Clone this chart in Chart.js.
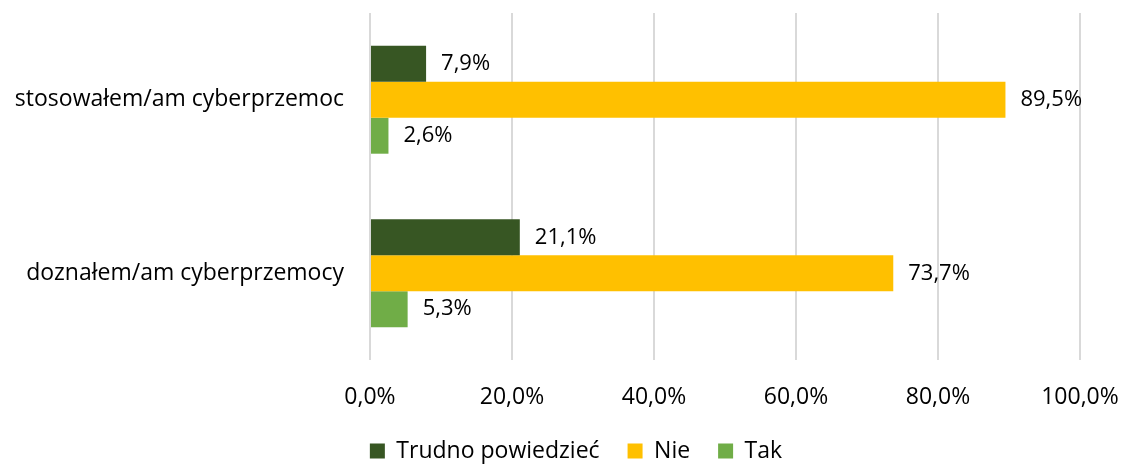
<!DOCTYPE html>
<html><head><meta charset="utf-8">
<script src="https://cdn.jsdelivr.net/npm/chart.js@4"></script>
<style>html,body{margin:0;padding:0;background:#fff}#w{width:1126px;height:465px}</style>
</head><body><div id="w"><canvas id="c" width="1126" height="465"></canvas></div>
<script>
const categories = ["stosowałem/am cyberprzemoc", "doznałem/am cyberprzemocy"];
const seriesNames = ["Trudno powiedzieć", "Nie", "Tak"];
const trudno = [7.9, 21.1];
const nie = [89.5, 73.7];
const tak = [2.6, 5.3];
const tickLabels = ["0,0%", "20,0%", "40,0%", "60,0%", "80,0%", "100,0%"];
const colors = ["#375623", "#FFC000", "#70AD47"];
const FONT = "'Open Sans', sans-serif";

const fmt = v => v.toFixed(1).replace('.', ',') + '%';

const labelPlugin = {
  id: 'vlabels',
  afterLayout(chart) {
    // shift legend to be centred like the reference
    const lg = chart.legend;
    if (lg) { lg.left += 36; lg.right += 36; }
  },
  afterDatasetsDraw(chart) {
    const ctx = chart.ctx;
    ctx.save();
    ctx.font = "22px " + FONT;
    ctx.fillStyle = "#000";
    ctx.textBaseline = 'middle';
    ctx.textAlign = 'left';
    chart.data.datasets.forEach((ds, i) => {
      chart.getDatasetMeta(i).data.forEach((bar, j) => {
        ctx.fillText(fmt(ds.data[j]), bar.x + 15, bar.y);
      });
    });
    ctx.restore();
  }
};

new Chart(document.getElementById('c'), {
  type: 'bar',
  data: {
    labels: categories,
    datasets: [
      { label: seriesNames[0], data: trudno, backgroundColor: colors[0] },
      { label: seriesNames[1], data: nie, backgroundColor: colors[1] },
      { label: seriesNames[2], data: tak, backgroundColor: colors[2] }
    ]
  },
  options: {
    indexAxis: 'y',
    responsive: false,
    animation: false,
    datasets: { bar: { categoryPercentage: 0.622, barPercentage: 1.0 } },
    layout: { padding: { top: 13, left: 0, right: 46, bottom: -7.5 } },
    plugins: {
      tooltip: { enabled: false },
      legend: {
        position: 'bottom',
        labels: {
          font: { family: FONT, size: 23 }, color: '#000',
          boxWidth: 15, boxHeight: 15, padding: 28
        }
      }
    },
    scales: {
      x: {
        min: 0, max: 100,
        ticks: {
          stepSize: 20, font: { family: FONT, size: 23 }, color: '#000', padding: 24,
          callback: (v, i) => tickLabels[i]
        },
        grid: { color: '#d9d9d9', lineWidth: 2, drawTicks: false },
        border: { display: false },
        afterFit(s) { s.height = 51.5; s.paddingLeft = 0; s.paddingRight = 0; }
      },
      y: {
        ticks: { font: { family: FONT, size: 23 }, color: '#000', padding: 18 },
        grid: { display: false },
        border: { display: false },
        afterFit(s) { s.width = 370; s.paddingTop = 0; s.paddingBottom = 0; }
      }
    }
  },
  plugins: [labelPlugin]
});
</script></body></html>
